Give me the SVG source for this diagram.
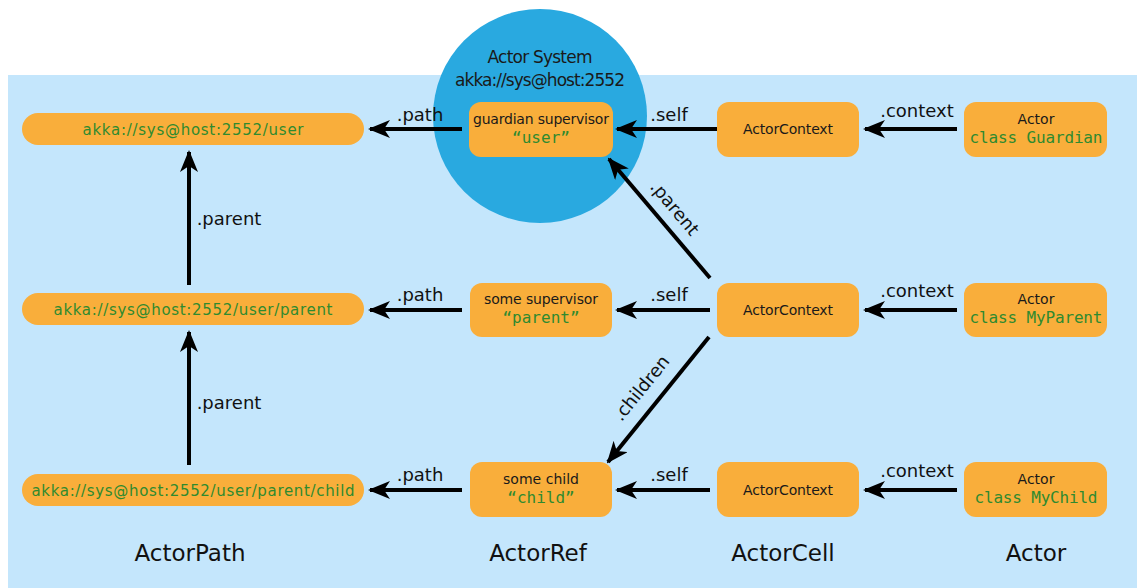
<svg xmlns="http://www.w3.org/2000/svg" width="1137" height="588" viewBox="0 0 1137 588">
<style>
.box{fill:#F9AE3B}
.t{font-family:"DejaVu Sans","Liberation Sans",sans-serif;fill:#1a1a1a;text-anchor:middle}
.g{font-family:"DejaVu Sans","Liberation Sans",sans-serif;fill:#2F8A2F;text-anchor:middle}
.m{font-family:"DejaVu Sans Mono","Liberation Mono",monospace;fill:#2F8A2F;text-anchor:middle}
.lbl{font-family:"DejaVu Sans","Liberation Sans",sans-serif;fill:#111;font-size:18px;text-anchor:middle}
.col{font-family:"DejaVu Sans","Liberation Sans",sans-serif;fill:#111;font-size:23px;text-anchor:middle}
.a{stroke:#000;stroke-width:4;fill:none;marker-end:url(#ah)}
</style>
<defs>
<marker id="ah" viewBox="0 0 22 18" markerWidth="22" markerHeight="18" refX="20" refY="9" orient="auto" markerUnits="userSpaceOnUse">
<path d="M0,0 L22,9 L0,18 L6,9 z" fill="#000"/>
</marker>
</defs>
<rect x="8" y="75" width="1129" height="513" fill="#C4E6FC"/>
<g id="actorSystem">
<circle cx="540" cy="116" r="107" fill="#29A9E0"/>
<text class="t" x="540" y="63" font-size="17" fill="#13283a" textLength="105">Actor System</text>
<text class="t" x="540" y="86" font-size="17" textLength="170">akka://sys@host:2552</text>
</g>
<g id="path1"><rect class="box" x="22" y="113" width="342" height="32" rx="16"/><text class="g" x="193" y="135" font-size="15" textLength="221">akka://sys@host:2552/user</text></g>
<g id="path2"><rect class="box" x="22" y="293" width="342" height="32" rx="16"/><text class="g" x="193" y="315" font-size="15" textLength="279">akka://sys@host:2552/user/parent</text></g>
<g id="path3"><rect class="box" x="22" y="474" width="342" height="32" rx="16"/><text class="g" x="193" y="496" font-size="15" textLength="323">akka://sys@host:2552/user/parent/child</text></g>
<g id="ref1"><rect class="box" x="469" y="102" width="144" height="55" rx="12"/><text class="t" x="541" y="124" font-size="14" textLength="136">guardian supervisor</text><text class="m" x="541" y="143" font-size="16">“user”</text></g>
<g id="ref2"><rect class="box" x="470" y="283" width="142" height="54" rx="12"/><text class="t" x="541" y="304" font-size="14" textLength="114">some supervisor</text><text class="m" x="541" y="323" font-size="16">“parent”</text></g>
<g id="ref3"><rect class="box" x="470" y="462" width="142" height="55" rx="12"/><text class="t" x="541" y="484" font-size="14" textLength="76">some child</text><text class="m" x="541" y="503" font-size="16">“child”</text></g>
<g id="cell1"><rect class="box" x="717" y="102" width="142" height="55" rx="12"/><text class="t" x="788" y="134" font-size="14" textLength="90">ActorContext</text></g>
<g id="cell2"><rect class="box" x="717" y="283" width="142" height="54" rx="12"/><text class="t" x="788" y="315" font-size="14" textLength="90">ActorContext</text></g>
<g id="cell3"><rect class="box" x="717" y="462" width="142" height="55" rx="12"/><text class="t" x="788" y="495" font-size="14" textLength="90">ActorContext</text></g>
<g id="actor1"><rect class="box" x="964" y="102" width="143" height="55" rx="12"/><text class="t" x="1036" y="124" font-size="14">Actor</text><text class="m" x="1036" y="143" font-size="16" textLength="133">class Guardian</text></g>
<g id="actor2"><rect class="box" x="964" y="283" width="143" height="54" rx="12"/><text class="t" x="1036" y="304" font-size="14">Actor</text><text class="m" x="1036" y="323" font-size="16" textLength="133">class MyParent</text></g>
<g id="actor3"><rect class="box" x="964" y="462" width="143" height="55" rx="12"/><text class="t" x="1036" y="484" font-size="14">Actor</text><text class="m" x="1036" y="503" font-size="16" textLength="123">class MyChild</text></g>
<g id="connectors">
<line class="a" x1="462" y1="129" x2="370" y2="129"/>
<line class="a" x1="717" y1="129" x2="617" y2="129"/>
<line class="a" x1="957" y1="129" x2="865" y2="129"/>
<line class="a" x1="462" y1="310" x2="370" y2="310"/>
<line class="a" x1="710" y1="310" x2="617" y2="310"/>
<line class="a" x1="957" y1="310" x2="865" y2="310"/>
<line class="a" x1="462" y1="490" x2="370" y2="490"/>
<line class="a" x1="710" y1="490" x2="617" y2="490"/>
<line class="a" x1="957" y1="490" x2="865" y2="490"/>
<line class="a" x1="189" y1="285" x2="189" y2="152"/>
<line class="a" x1="189" y1="465" x2="189" y2="332"/>
<line class="a" x1="710" y1="278" x2="609" y2="159"/>
<line class="a" x1="709" y1="337" x2="608" y2="462"/>
<text class="lbl" x="420" y="121">.path</text>
<text class="lbl" x="669" y="121">.self</text>
<text class="lbl" x="917" y="117">.context</text>
<text class="lbl" x="420" y="301">.path</text>
<text class="lbl" x="669" y="301">.self</text>
<text class="lbl" x="917" y="297">.context</text>
<text class="lbl" x="420" y="481">.path</text>
<text class="lbl" x="669" y="481">.self</text>
<text class="lbl" x="917" y="477">.context</text>
<text class="lbl" x="229" y="225">.parent</text>
<text class="lbl" x="229" y="409">.parent</text>
<text class="lbl" transform="translate(670,212) rotate(50)">.parent</text>
<text class="lbl" transform="translate(646,392) rotate(-51)">.children</text>
</g>
<g id="columns">
<text class="col" x="190" y="561">ActorPath</text>
<text class="col" x="538" y="561">ActorRef</text>
<text class="col" x="783" y="561">ActorCell</text>
<text class="col" x="1036" y="561">Actor</text>
</g>
</svg>
